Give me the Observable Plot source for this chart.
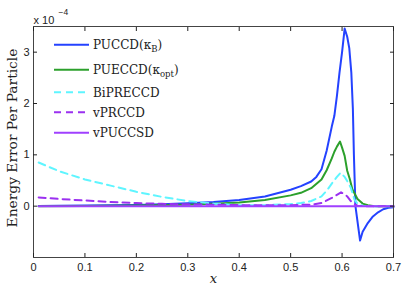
<!DOCTYPE html>
<html>
<head>
<meta charset="utf-8">
<script src="https://cdn.jsdelivr.net/npm/d3@7"></script>
<script src="https://cdn.jsdelivr.net/npm/@observablehq/plot@0.6"></script>
<style>
  html, body { margin: 0; padding: 0; background: #fff; }
  #chart { width: 407px; height: 288px; }
</style>
</head>
<body>
<div id="chart"></div>
<script>
// Tick values
const xTicks = [0, 0.1, 0.2, 0.3, 0.4, 0.5, 0.6, 0.7];
const yTicks = [0, 1, 2, 3];

// Series names (legend order)
const seriesNames = ["PUCCD(κB)", "PUECCD(κopt)", "BiPRECCD", "vPRCCD", "vPUCCSD"];

// Values in units of 1e-4
const puccdX = [0.01, 0.05, 0.1, 0.15, 0.2, 0.25, 0.3, 0.35, 0.4, 0.45, 0.5, 0.52, 0.54, 0.55, 0.56, 0.57, 0.58, 0.585, 0.59, 0.595, 0.6, 0.605, 0.61, 0.614, 0.618, 0.621, 0.623, 0.626, 0.635, 0.64, 0.65, 0.66, 0.67, 0.68, 0.69, 0.7];
const puccdY = [0.005, 0.008, 0.012, 0.018, 0.025, 0.035, 0.055, 0.08, 0.12, 0.19, 0.32, 0.39, 0.48, 0.57, 0.72, 1.08, 1.55, 1.76, 2.15, 2.6, 3.0, 3.46, 3.3, 3.08, 2.6, 1.9, 1.0, 0.0, -0.67, -0.5, -0.33, -0.2, -0.12, -0.06, -0.03, -0.02];

const pueccdX = [0.01, 0.1, 0.2, 0.3, 0.35, 0.4, 0.45, 0.5, 0.52, 0.54, 0.56, 0.57, 0.58, 0.585, 0.59, 0.596, 0.6, 0.605, 0.61, 0.615, 0.62, 0.63, 0.64, 0.65, 0.66, 0.67, 0.7];
const pueccdY = [0.0, 0.005, 0.015, 0.03, 0.045, 0.07, 0.12, 0.21, 0.26, 0.35, 0.52, 0.7, 0.93, 1.06, 1.16, 1.26, 1.14, 0.98, 0.69, 0.53, 0.33, 0.14, 0.05, 0.02, 0.005, 0.0, 0.0];

const biX = [0.01, 0.05, 0.1, 0.15, 0.2, 0.25, 0.3, 0.35, 0.4, 0.45, 0.5, 0.52, 0.54, 0.56, 0.57, 0.58, 0.59, 0.597, 0.605, 0.61, 0.617, 0.624, 0.63, 0.64, 0.66, 0.7];
const biY = [0.85, 0.68, 0.52, 0.4, 0.28, 0.18, 0.1, 0.05, 0.02, 0.02, 0.04, 0.06, 0.1, 0.19, 0.3, 0.44, 0.57, 0.65, 0.57, 0.49, 0.36, 0.13, 0.05, 0.01, 0.0, 0.0];

const vprX = [0.01, 0.05, 0.1, 0.15, 0.2, 0.25, 0.3, 0.35, 0.4, 0.45, 0.5, 0.54, 0.56, 0.58, 0.59, 0.598, 0.605, 0.61, 0.617, 0.624, 0.63, 0.64, 0.7];
const vprY = [0.17, 0.14, 0.11, 0.08, 0.06, 0.045, 0.035, 0.03, 0.02, 0.02, 0.02, 0.03, 0.06, 0.16, 0.22, 0.27, 0.23, 0.19, 0.1, 0.04, 0.01, 0.0, 0.0];

const vpuX = [0.01, 0.1, 0.2, 0.3, 0.4, 0.5, 0.6, 0.7];
const vpuY = [0, 0, 0, 0, 0, 0, 0, 0];

const colors = ["#2442ff", "#2ca02c", "#5ff5ff", "#9b30f0", "#a040ff"];
const dashes = [null, null, "7,5", "7,5", null];

const seriesX = [puccdX, pueccdX, biX, vprX, vpuX];
const seriesY = [puccdY, pueccdY, biY, vprY, vpuY];

const rows = [];
seriesNames.forEach((name, i) => {
  seriesX[i].forEach((x, j) => rows.push({series: name, x, y: seriesY[i][j]}));
});

const lineMarks = seriesNames.map((name, i) =>
  Plot.line(rows.filter(d => d.series === name), {
    x: "x", y: "y", stroke: colors[i], strokeWidth: 2,
    strokeDasharray: dashes[i] || undefined
  })
);

const fmt = d3.format("~g");

const chart = Plot.plot({
  width: 407,
  height: 288,
  marginLeft: 33,
  marginRight: 14,
  marginTop: 26,
  marginBottom: 31,
  style: {fontFamily: "'Liberation Sans', Arial, sans-serif", fontSize: "11px", background: "#fff", color: "#222"},
  x: {domain: [0, 0.7]},
  y: {domain: [-1, 3.5]},
  marks: [
    ...lineMarks,
    Plot.frame({stroke: "#444", strokeWidth: 1}),
    Plot.axisX(xTicks, {anchor: "bottom", tickSize: -4, tickPadding: 10, tickFormat: fmt, label: null, fontSize: 11}),
    Plot.axisX(xTicks, {anchor: "top", tickSize: -4, tickFormat: () => "", label: null}),
    Plot.axisY(yTicks, {anchor: "left", tickSize: -4, tickPadding: 8, tickFormat: fmt, label: null, fontSize: 11}),
    Plot.axisY(yTicks, {anchor: "right", tickSize: -4, tickFormat: () => "", label: null}),
    Plot.text(["Energy Error Per Particle"], {frameAnchor: "left", textAnchor: "middle", rotate: -90, dx: -21, dy: -4, fontFamily: "'DejaVu Serif', serif", fontSize: 13.8, fill: "#222"}),
    Plot.text(["x"], {frameAnchor: "bottom", dy: 25, fontFamily: "'DejaVu Serif', serif", fontStyle: "italic", fontSize: 13, fill: "#222"}),
    Plot.text(["x 10"], {frameAnchor: "top-left", textAnchor: "start", dy: -10, dx: 0, fontSize: 11, fill: "#222"}),
    Plot.text(["−4"], {frameAnchor: "top-left", textAnchor: "start", dy: -18, dx: 25, fontSize: 8.5, fill: "#222"})
  ]
});

document.getElementById("chart").appendChild(chart);

// Legend drawn inside the plot area
const svg = d3.select(chart);
const legendY = [44.7, 69.7, 92.3, 112.3, 132.7];
const parts = [
  ["PUCCD(κ", "B", ")"],
  ["PUECCD(κ", "opt", ")"],
  ["BiPRECCD"],
  ["vPRCCD"],
  ["vPUCCSD"]
];
const lg = svg.append("g").attr("font-family", "'DejaVu Serif', serif").attr("font-size", 12).attr("fill", "#222").attr("text-anchor", "start");
seriesNames.forEach((name, i) => {
  const y = legendY[i];
  lg.append("line").attr("x1", 54).attr("x2", 89).attr("y1", y).attr("y2", y)
    .attr("stroke", colors[i]).attr("stroke-width", 2)
    .attr("stroke-dasharray", dashes[i]);
  const t = lg.append("text").attr("x", 93).attr("y", y).attr("dy", "0.35em");
  const p = parts[i];
  t.append("tspan").text(p[0]);
  if (p.length > 1) {
    t.append("tspan").attr("font-size", 8.5).attr("dy", 3).text(p[1]);
    t.append("tspan").attr("dy", -3).text(p[2]);
  }
});
</script>
</body>
</html>
